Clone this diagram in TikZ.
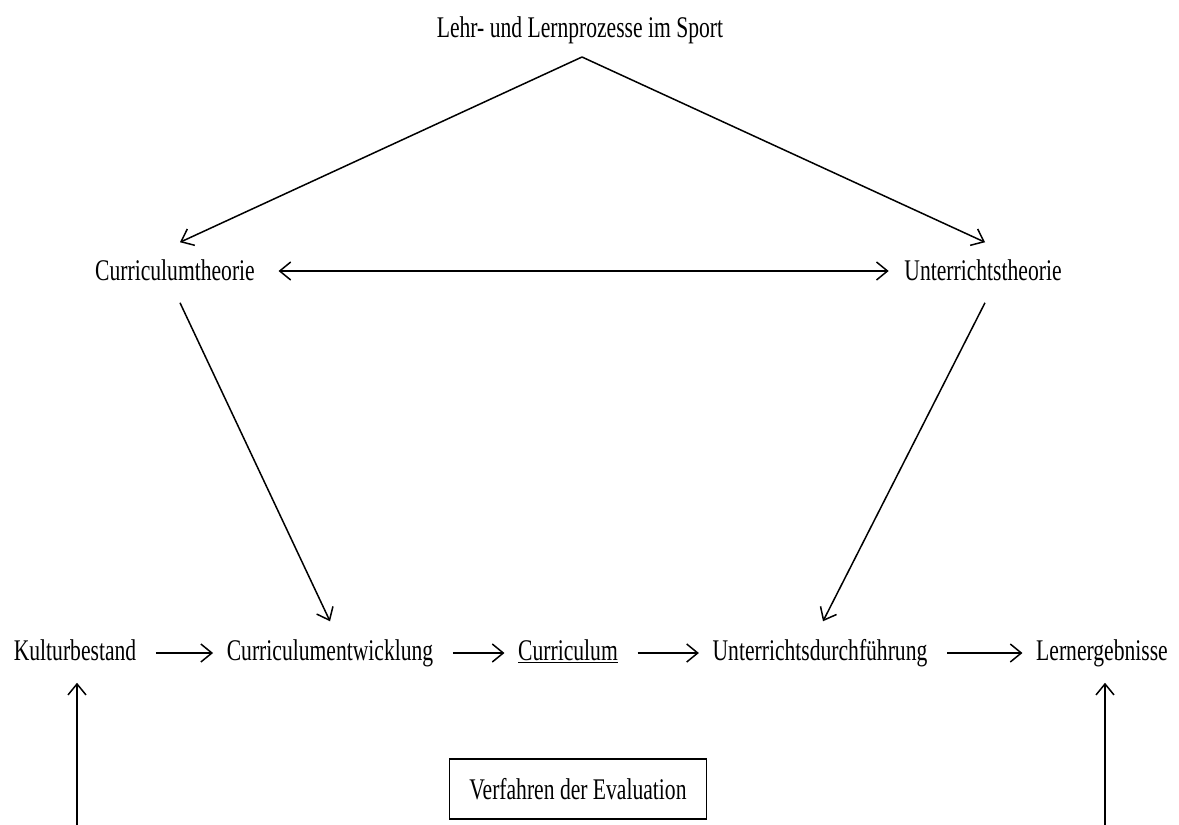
\documentclass[tikz,border=0pt]{standalone}
\usepackage{fontspec}
\setmainfont{Liberation Serif}[FakeStretch=0.72]
\usetikzlibrary{arrows.meta,calc,positioning}

\begin{document}
\begin{tikzpicture}[x=1pt, y=-1pt, line width=1.5pt,
    >={Straight Barb[length=11pt,width=18pt]},
    term/.style={inner sep=0pt, anchor=base, text height=20pt, text depth=6pt,
                 font=\fontsize{30}{36}\selectfont},
    evalbox/.style={draw, line width=1.5pt, minimum width=257pt, minimum height=60pt,
                    font=\fontsize{30}{36}\selectfont},
    flow/.style={->, shorten <=19pt, shorten >=13pt}]
    \useasboundingbox (0,0) rectangle (1179,825);

    % Top
    \node[term] (title) at (580,37) {Lehr- und Lernprozesse im Sport};
    \coordinate (apex) at (582,57);

    % Theories
    \node[term] (ct) at (175,280) {Curriculumtheorie};
    \node[term] (ut) at (983,280) {Unterrichtstheorie};

    \draw[->] (apex) -- ([shift={(5,-17)}]ct.north);
    \draw[->] (apex) -- ([shift={(2,-17)}]ut.north);
    \draw[<->] ([shift={(23,-2)}]ct.east) -- ([shift={(-15,-2)}]ut.west);

    % Bottom row
    \node[term] (kb)  at (75,660)  {Kulturbestand};
    \node[term] (ce)  at (330,660) {Curriculumentwicklung};
    \node[term] (cur) at (568,660) {\underline{Curriculum}};
    \node[term] (ud)  at (820,660) {Unterrichtsdurchführung};
    \node[term] (le)  at (1102,660) {Lernergebnisse};

    \draw[flow] (kb) -- (ce);
    \draw[flow] (ce) -- (cur);
    \draw[flow] (cur) -- (ud);
    \draw[flow] (ud) -- (le);

    % Theories into the row
    \draw[->] ([shift={(5,16)}]ct.south) -- ([shift={(0,-18)}]ce.north);
    \draw[->] ([shift={(2,16)}]ut.south) -- ([shift={(3,-18)}]ud.north);

    % Evaluation
    \node[evalbox] (eval) at (578,789) {Verfahren der Evaluation};
    \coordinate (kbfoot) at (77,826);
    \coordinate (lefoot) at (1105,826);
    \draw[->, shorten >=16pt] (kbfoot) -- (kbfoot |- kb.south);
    \draw[->, shorten >=16pt] (lefoot) -- (lefoot |- le.south);
\end{tikzpicture}
\end{document}
